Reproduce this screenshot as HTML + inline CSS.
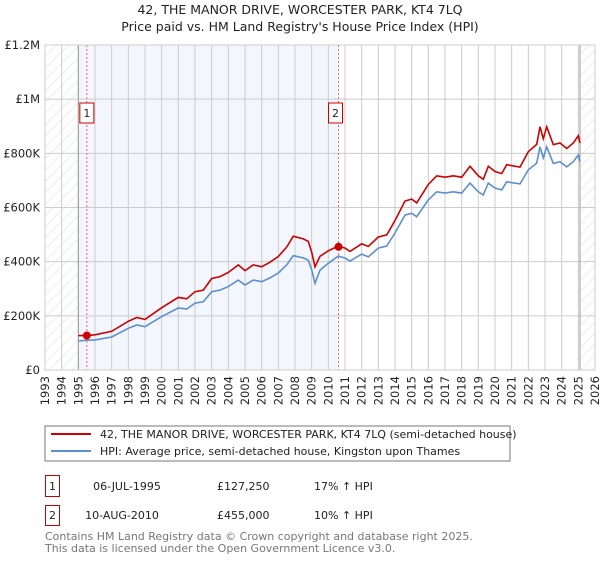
<!DOCTYPE html>
<html><head><meta charset="utf-8"><style>
body{margin:0;background:#fff;font-family:"DejaVu Sans","Liberation Sans",sans-serif;}
svg text{font-family:"DejaVu Sans","Liberation Sans",sans-serif;}
</style></head><body>
<svg id="c" width="600" height="560" xmlns="http://www.w3.org/2000/svg">
<defs><pattern id="hatch" width="8" height="8" patternUnits="userSpaceOnUse" patternTransform="rotate(45)"><line x1="0" y1="0" x2="0" y2="8" stroke="#d4d4d4" stroke-width="0.8"/></pattern></defs>
<text x="300" y="14" text-anchor="middle" font-size="12.5" fill="#222">42, THE MANOR DRIVE, WORCESTER PARK, KT4 7LQ</text>
<text x="300" y="31" text-anchor="middle" font-size="12.5" fill="#222">Price paid vs. HM Land Registry's House Price Index (HPI)</text>
<g id="plot"></g>
<g>
<rect x="45" y="426" width="465" height="35" fill="#fff" stroke="#777"/>
<line x1="51" y1="434" x2="91" y2="434" stroke="#cc0000" stroke-width="2"/>
<text x="100" y="438" font-size="11" fill="#222">42, THE MANOR DRIVE, WORCESTER PARK, KT4 7LQ (semi-detached house)</text>
<line x1="51" y1="451" x2="91" y2="451" stroke="#5b8fd0" stroke-width="2"/>
<text x="100" y="455" font-size="11" fill="#222">HPI: Average price, semi-detached house, Kingston upon Thames</text>
</g>
<g>
<rect x="45.5" y="475.5" width="14" height="21" fill="#fff" stroke="#cc0000"/>
<text x="52.5" y="490" text-anchor="middle" font-size="11" fill="#222">1</text>
<text x="127" y="490" text-anchor="middle" font-size="11" fill="#222">06-JUL-1995</text>
<text x="217" y="490" font-size="11" fill="#222">£127,250</text>
<text x="314" y="490" font-size="11" fill="#222">17% ↑ HPI</text>
<rect x="45.5" y="505.5" width="14" height="20" fill="#fff" stroke="#cc0000"/>
<text x="52.5" y="519" text-anchor="middle" font-size="11" fill="#222">2</text>
<text x="122" y="519" text-anchor="middle" font-size="11" fill="#222">10-AUG-2010</text>
<text x="217" y="519" font-size="11" fill="#222">£455,000</text>
<text x="314" y="519" font-size="11" fill="#222">10% ↑ HPI</text>
</g>
<text x="45" y="540" font-size="11" fill="#777">Contains HM Land Registry data © Crown copyright and database right 2025.</text>
<text x="45" y="552" font-size="11" fill="#777">This data is licensed under the Open Government Licence v3.0.</text>
</svg>
<script>
const years=[1995.0,1995.5,1996,1997,1998,1998.5,1999,2000,2001,2001.5,2002,2002.5,2003,2003.5,2004,2004.6,2005,2005.5,2006,2006.5,2007,2007.5,2007.9,2008.5,2008.8,2009,2009.2,2009.5,2010,2010.6,2011,2011.3,2012,2012.4,2013,2013.5,2014,2014.6,2015,2015.3,2016,2016.5,2017,2017.5,2018,2018.5,2019,2019.3,2019.6,2020,2020.4,2020.7,2021.5,2022,2022.5,2022.7,2022.9,2023.1,2023.5,2023.9,2024.3,2024.7,2025,2025.1];
const hpi=[107,110,111,122,154,166,160,197,229,225,247,252,289,295,308,332,314,332,326,340,358,388,422,414,405,370,320,369,394,421,413,402,428,418,450,458,506,572,579,566,628,658,653,658,653,690,658,646,690,672,665,695,687,739,764,824,783,824,763,769,750,769,794,769];
const prop=[127,127,130,143,180,194,187,230,268,263,289,295,338,345,360,388,367,388,381,398,419,454,494,484,475,435,381,420,440,458,450,438,466,456,491,499,552,624,631,617,685,717,712,717,712,752,717,704,752,733,725,758,749,806,833,898,854,898,832,838,818,838,865,838];
const saleYears=[1995.51,2010.61];
const saleValues=[127.25,455];
const yTicks=[0,200,400,600,800,1000,1200];
const yTickLabels=["£0","£200K","£400K","£600K","£800K","£1M","£1.2M"];
const xTicks=[1993,1994,1995,1996,1997,1998,1999,2000,2001,2002,2003,2004,2005,2006,2007,2008,2009,2010,2011,2012,2013,2014,2015,2016,2017,2018,2019,2020,2021,2022,2023,2024,2025,2026];
const L=45,R=595,T=45,B=370;
const X=y=>L+(y-1993)/(2026-1993)*(R-L);
const Y=v=>B-v/1200*(B-T);
const g=document.getElementById('plot');
const NS='http://www.w3.org/2000/svg';
function mk(t,a){const e=document.createElementNS(NS,t);for(const k in a)e.setAttribute(k,a[k]);g.appendChild(e);return e;}
let e;
e=mk('rect',{x:X(1995),y:T,width:X(saleYears[1])-X(1995),height:B-T,fill:'#f3f6fd'});


e=mk('rect',{x:L,y:T,width:X(1995)-L,height:B-T,fill:'url(#hatch)'});


e=mk('rect',{x:X(2025.1),y:T,width:R-X(2025.1),height:B-T,fill:'url(#hatch)'});


xTicks.forEach((t,i)=>{
 e=mk('line',{x1:X(t),x2:X(t),y1:T,y2:B,stroke:'#ccc','stroke-width':1});
 
 
 e=mk('text',{x:0,y:0,transform:`translate(${X(t)+4},${B+6}) rotate(-90)`,'text-anchor':'end','font-size':11.5,fill:'#222'});
 e.textContent=t;
 
 
});
yTicks.forEach((t,i)=>{
 e=mk('line',{x1:L,x2:R,y1:Y(t),y2:Y(t),stroke:'#ccc','stroke-width':1});
 
 
 e=mk('text',{x:L-5,y:Y(t)+4,'text-anchor':'end','font-size':11.5,fill:'#222'});
 e.textContent=yTickLabels[i];
 
 
});
e=mk('line',{x1:X(1995),x2:X(1995),y1:T,y2:B,stroke:'#999','stroke-width':1});


e=mk('line',{x1:X(2025.1),x2:X(2025.1),y1:T,y2:B,stroke:'#999','stroke-width':1});


saleYears.forEach((s,i)=>{
 e=mk('line',{x1:X(s),x2:X(s),y1:T,y2:B,stroke:'#e66','stroke-width':1,'stroke-dasharray':'2,2'});
 
 
 e=mk('rect',{x:X(s)-(i?10:7),y:103,width:14,height:20,fill:'#fff',stroke:'#cc0000'});
 
 
 e=mk('text',{x:X(s)-(i?3:0),y:117,'text-anchor':'middle','font-size':11,fill:'#222'});
 e.textContent=String(i+1);
 
 
});
const pts=a=>years.map((y,i)=>X(y).toFixed(1)+','+Y(a[i]).toFixed(1)).join(' ');
e=mk('polyline',{points:pts(hpi),fill:'none',stroke:'#5b8fd0','stroke-width':1.6});


e=mk('polyline',{points:pts(prop),fill:'none',stroke:'#cc0000','stroke-width':1.6});


saleYears.forEach((s,i)=>{
 e=mk('circle',{cx:X(s),cy:Y(saleValues[i]),r:4,fill:'#cc0000'});
 
 
});
e=mk('rect',{x:L,y:T,width:R-L,height:B-T,fill:'none',stroke:'#ccc'});


</script>
</body></html>
